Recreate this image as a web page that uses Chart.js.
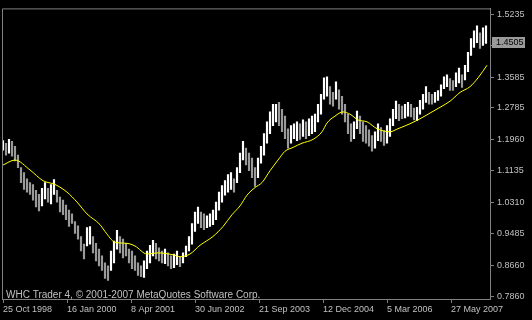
<!DOCTYPE html>
<html>
<head>
<meta charset="utf-8">
<script src="https://cdn.jsdelivr.net/npm/chart.js@4/dist/chart.umd.min.js"></script>
<style>
  html, body { margin: 0; padding: 0; background: #000; }
  canvas { display: block; background: #000; }
</style>
</head>
<body>
<canvas id="priceChart" width="532" height="320"></canvas>
<script>
// weekly EURUSD, one sample every 3 weeks starting 25 Oct 1998
const sampleStep = 3;
const highs = [
  1.193, 1.186, 1.196, 1.191, 1.178, 1.155, 1.122, 1.109, 1.093, 1.083,
  1.078, 1.063, 1.052, 1.068, 1.083, 1.068, 1.078, 1.091, 1.063, 1.045,
  1.037, 1.024, 1.011, 1.001, 0.981, 0.970, 0.942, 0.922, 0.965, 0.968,
  0.942, 0.924, 0.909, 0.891, 0.873, 0.865, 0.904, 0.930, 0.958, 0.942,
  0.935, 0.924, 0.909, 0.904, 0.891, 0.873, 0.865, 0.878, 0.904, 0.919,
  0.932, 0.924, 0.912, 0.904, 0.909, 0.899, 0.891, 0.896, 0.904, 0.889,
  0.899, 0.917, 0.942, 0.976, 1.006, 1.019, 1.006, 1.001, 0.996, 1.001,
  1.011, 1.032, 1.058, 1.075, 1.088, 1.104, 1.109, 1.093, 1.122, 1.160,
  1.191, 1.173, 1.160, 1.147, 1.122, 1.147, 1.178, 1.211, 1.242, 1.268,
  1.288, 1.288, 1.293, 1.275, 1.257, 1.224, 1.232, 1.237, 1.242, 1.237,
  1.247, 1.242, 1.250, 1.257, 1.262, 1.288, 1.314, 1.357, 1.360, 1.334,
  1.319, 1.347, 1.326, 1.309, 1.288, 1.262, 1.237, 1.242, 1.270, 1.257,
  1.242, 1.232, 1.221, 1.206, 1.216, 1.237, 1.227, 1.219, 1.232, 1.250,
  1.275, 1.296, 1.288, 1.283, 1.288, 1.293, 1.288, 1.278, 1.280, 1.298,
  1.314, 1.334, 1.319, 1.314, 1.319, 1.324, 1.339, 1.360, 1.365, 1.355,
  1.350, 1.370, 1.383, 1.365, 1.390, 1.424, 1.460, 1.480, 1.493, 1.475,
  1.488, 1.493
];
const lows = [
  1.168, 1.155, 1.160, 1.152, 1.140, 1.122, 1.083, 1.065, 1.058, 1.052,
  1.037, 1.019, 1.009, 1.022, 1.040, 1.032, 1.027, 1.052, 1.032, 1.006,
  0.999, 0.986, 0.968, 0.976, 0.950, 0.935, 0.904, 0.883, 0.917, 0.922,
  0.899, 0.878, 0.865, 0.853, 0.832, 0.827, 0.853, 0.873, 0.909, 0.899,
  0.886, 0.891, 0.873, 0.858, 0.853, 0.840, 0.837, 0.835, 0.858, 0.873,
  0.891, 0.883, 0.878, 0.873, 0.871, 0.865, 0.858, 0.860, 0.868, 0.863,
  0.873, 0.889, 0.904, 0.922, 0.955, 0.976, 0.965, 0.960, 0.965, 0.968,
  0.973, 0.986, 1.011, 1.032, 1.050, 1.058, 1.065, 1.058, 1.083, 1.109,
  1.142, 1.129, 1.114, 1.096, 1.073, 1.096, 1.134, 1.155, 1.186, 1.211,
  1.232, 1.242, 1.232, 1.216, 1.198, 1.173, 1.186, 1.198, 1.193, 1.196,
  1.204, 1.198, 1.206, 1.211, 1.216, 1.242, 1.262, 1.301, 1.309, 1.288,
  1.283, 1.301, 1.275, 1.262, 1.242, 1.211, 1.191, 1.198, 1.224, 1.211,
  1.191, 1.186, 1.178, 1.165, 1.173, 1.193, 1.191, 1.180, 1.186, 1.204,
  1.232, 1.250, 1.245, 1.250, 1.252, 1.257, 1.255, 1.247, 1.245, 1.262,
  1.275, 1.293, 1.288, 1.288, 1.293, 1.298, 1.309, 1.329, 1.334, 1.324,
  1.324, 1.334, 1.344, 1.332, 1.352, 1.373, 1.416, 1.437, 1.449, 1.434,
  1.442, 1.447
];

// moving average (yellow), week number -> value
const maWeeks = [0, 12, 27, 40, 52, 64, 74, 84, 97, 102, 112, 124, 132, 144, 155, 170, 177, 187, 197, 210,
  220, 229, 237, 244, 252, 259, 267, 275, 282, 290, 299, 310, 319, 324, 332, 340, 347, 355, 364, 374,
  387, 395, 407, 417, 427, 437, 447, 457, 467, 475, 484];
const maValues = [1.129, 1.142, 1.116, 1.088, 1.078, 1.058, 1.032, 1.001, 0.973, 0.955, 0.927, 0.924, 0.917, 0.896, 0.899, 0.894, 0.889, 0.896, 0.919, 0.942,
  0.968, 0.999, 1.022, 1.050, 1.070, 1.083, 1.114, 1.142, 1.165, 1.175, 1.186, 1.196, 1.216, 1.239, 1.257, 1.268, 1.262, 1.247, 1.242, 1.224,
  1.216, 1.224, 1.237, 1.250, 1.265, 1.280, 1.296, 1.319, 1.334, 1.357, 1.390];

const lastPrice = 1.4505;
const yTicks = [0.7860, 0.8660, 0.9485, 1.0310, 1.1135, 1.1960, 1.2785, 1.3585, 1.4410, 1.5235];
const xTickWeeks = [0, 64, 128, 192, 256, 320, 384, 448];
const xTickLabels = ["25 Oct 1998", "16 Jan 2000", "8 Apr 2001", "30 Jun 2002", "21 Sep 2003", "12 Dec 2004", "5 Mar 2006", "27 May 2007"];

const axisGray = "#808080";
const textGray = "#c0c0c0";
const tickFont = { family: "Liberation Sans", size: 9 };

var barData = highs.map((h, i) => ({ x: i * sampleStep, y: [lows[i], h] }));
var barColors = highs.map((h, i) => {
  if (i === 0) return "#ffffff";
  var mid = (h + lows[i]) / 2, prev = (highs[i - 1] + lows[i - 1]) / 2;
  return mid >= prev ? "#ffffff" : "#9a9a9a";
});
var maData = maWeeks.map((w, i) => ({ x: w, y: maValues[i] }));

// frame, copyright line and current price box
const decorPlugin = {
  id: "decor",
  beforeDraw(chart) {
    var c = chart.ctx;
    c.save();
    c.fillStyle = "#000";
    c.fillRect(0, 0, chart.width, chart.height);
    c.restore();
  },
  afterDraw(chart) {
    var c = chart.ctx, a = chart.chartArea;
    c.save();
    c.strokeStyle = axisGray;
    c.lineWidth = 1;
    c.beginPath();
    c.moveTo(a.left + 0.5, a.bottom);
    c.lineTo(a.left + 0.5, a.top + 0.5);
    c.lineTo(a.right, a.top + 0.5);
    c.stroke();

    c.fillStyle = textGray;
    c.font = "10px 'Liberation Sans'";
    c.textBaseline = "alphabetic";
    c.fillText("WHC Trader 4, \u00a9 2001-2007 MetaQuotes Software Corp.", a.left + 4, a.bottom - 1);

    var py = Math.round(chart.scales.y.getPixelForValue(lastPrice));
    c.fillStyle = "#9a9a9a";
    c.fillRect(a.right + 2, py - 5, 33, 11);
    c.fillStyle = "#000";
    c.font = "9px 'Liberation Sans'";
    c.textBaseline = "middle";
    c.fillText(lastPrice.toFixed(4), a.right + 6, py + 0.5);
    c.restore();
  }
};

var ctx = document.getElementById("priceChart").getContext("2d");
var priceChart = new Chart(ctx, {
  type: "bar",
  data: {
    datasets: [
      {
        type: "line",
        label: "MA",
        data: maData,
        borderColor: "#ffff00",
        borderWidth: 1,
        pointRadius: 0,
        cubicInterpolationMode: "monotone",
        order: 0,
      },
      {
        label: "EURUSD",
        data: barData,
        backgroundColor: barColors,
        borderWidth: 0,
        barThickness: 1.5,
        order: 1,
      },
    ],
  },
  options: {
    responsive: false,
    animation: false,
    layout: { padding: { left: 2, top: 2, right: 0, bottom: 0 } },
    plugins: {
      legend: { display: false },
      tooltip: { enabled: false },
    },
    scales: {
      x: {
        type: "linear",
        min: -1,
        max: 487,
        offset: false,
        afterBuildTicks: (scale) => {
          scale.ticks = xTickWeeks.map((v) => ({ value: v }));
        },
        afterFit: (scale) => { scale.height = 21; },
        border: { color: axisGray },
        grid: { drawOnChartArea: false, offset: false, color: axisGray, tickLength: 4 },
        ticks: {
          color: textGray,
          font: tickFont,
          align: "start",
          maxRotation: 0,
          autoSkip: false,
          padding: 1,
          callback: (v) => xTickLabels[xTickWeeks.indexOf(v)],
        },
      },
      y: {
        position: "right",
        min: 0.7783,
        max: 1.5389,
        afterBuildTicks: (scale) => {
          scale.ticks = yTicks.map((v) => ({ value: v }));
        },
        afterFit: (scale) => { scale.width = 42; },
        border: { color: axisGray },
        grid: { drawOnChartArea: false, color: axisGray, tickLength: 4 },
        ticks: {
          color: textGray,
          font: tickFont,
          padding: 3,
          callback: (v) => v.toFixed(4),
        },
      },
    },
  },
  plugins: [decorPlugin],
});
</script>
</body>
</html>
